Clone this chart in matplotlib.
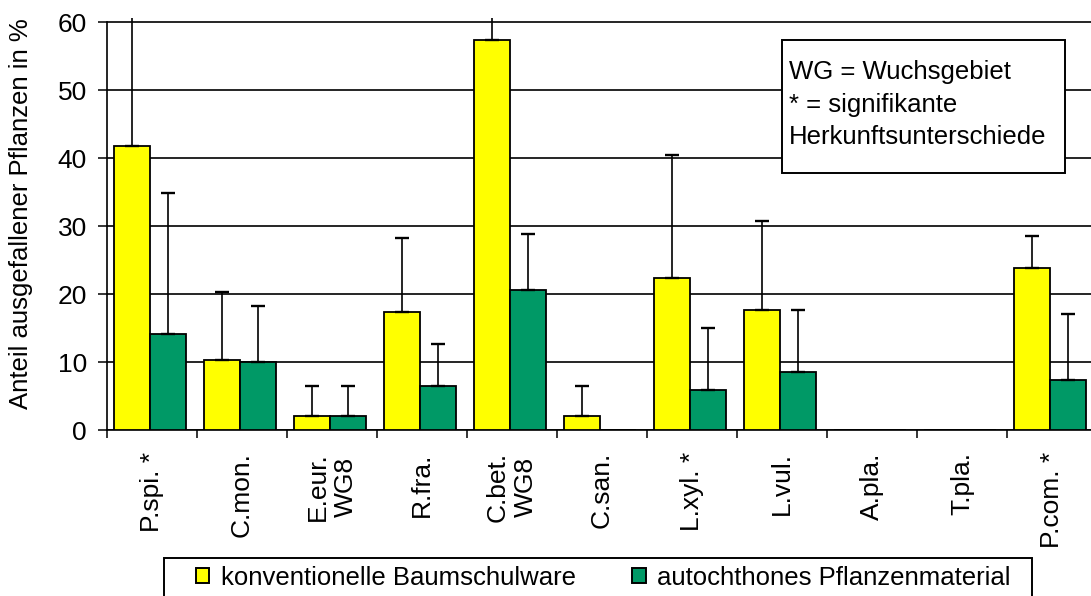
import matplotlib
matplotlib.use("Agg")
import matplotlib.pyplot as plt
from matplotlib.patches import Rectangle, Patch
import numpy as np

# Species (abbreviated) and their failure rates
categories = ["P.spi. *", "C.mon.", "E.eur.\nWG8", "R.fra.", "C.bet.\nWG8",
              "C.san.", "L.xyl. *", "L.vul.", "A.pla.", "T.pla.", "P.com. *"]
konventionell = [41.7, 10.3, 2.0, 17.4, 57.4, 2.0, 22.3, 17.6, 0.0, 0.0, 23.8]
konventionell_upper = [68.0, 20.3, 6.5, 28.3, 66.0, 6.5, 40.4, 30.7, 0.0, 0.0, 28.6]
autochthon = [14.1, 10.0, 2.0, 6.5, 20.6, 0.0, 5.9, 8.5, 0.0, 0.0, 7.4]
autochthon_upper = [34.8, 18.3, 6.5, 12.7, 28.85, 0.0, 15.0, 17.7, 0.0, 0.0, 17.1]
y_ticks = [0, 10, 20, 30, 40, 50, 60]
series_labels = ["konventionelle Baumschulware", "autochthones Pflanzenmaterial"]

YELLOW = "#FFFF00"
GREEN = "#009966"

plt.rcParams["font.family"] = ["Liberation Sans", "DejaVu Sans"]

W, H = 1091, 596
fig = plt.figure(figsize=(W / 100, H / 100), dpi=100)
ax = fig.add_axes([107 / W, (H - 430) / H, 990 / W, 412 / H])

x = np.arange(len(categories))
k = np.array(konventionell)
a = np.array(autochthon)
ax.bar(x - 0.22, k, width=0.4, color=YELLOW, edgecolor="black", linewidth=1.3, zorder=3)
ax.bar(x + 0.18, a, width=0.4, color=GREEN, edgecolor="black", linewidth=1.3, zorder=3)

# upper-only error bars
for offs, vals, up in ((-0.22, k, np.array(konventionell_upper)),
                       (0.18, a, np.array(autochthon_upper))):
    mask = up > vals
    err = np.vstack([np.zeros(mask.sum()), (up - vals)[mask]])
    ax.errorbar(x[mask] + offs, vals[mask], yerr=err, fmt="none", ecolor="black",
                elinewidth=1.2, capsize=5, capthick=1.7, zorder=4)

ax.set_xlim(-0.5, len(categories) - 0.5)
ax.set_ylim(0, 60.6)
ax.set_yticks(y_ticks)
ax.set_yticklabels([str(t) for t in y_ticks], fontsize=19)
ax.yaxis.grid(True, color="black", linewidth=1.2)
ax.set_axisbelow(True)
ax.tick_params(axis="y", direction="out", length=6.5, width=1.1, pad=8, color="black")

# category boundaries as major ticks, labels on minor ticks at bar-group centres
ax.set_xticks(np.arange(len(categories) + 1) - 0.5)
ax.set_xticklabels([])
ax.set_xticks(x, minor=True)
ax.set_xticklabels(categories, minor=True, rotation=90, fontsize=19,
                   va="top", ha="center", multialignment="center")
ax.tick_params(axis="x", which="major", direction="out", length=6, width=1.1)
ax.tick_params(axis="x", which="minor", length=0, pad=16)

for s in ("top", "right"):
    ax.spines[s].set_visible(False)
ax.spines["left"].set_bounds(0, 60)
ax.spines["left"].set_linewidth(1.2)
ax.spines["bottom"].set_linewidth(1.2)

ax.set_ylabel("Anteil ausgefallener Pflanzen in %", fontsize=18.5)
ax.yaxis.set_label_coords(-74 / 990, (430 - 214) / 412)

# annotation box
fig.add_artist(Rectangle((782 / W, 1 - 173 / H), (1065 - 782) / W, (173 - 40) / H,
                         transform=fig.transFigure, facecolor="white",
                         edgecolor="black", linewidth=1.4, zorder=5))
fig.text(789 / W, 1 - 60 / H, "WG = Wuchsgebiet\n* = signifikante\nHerkunftsunterschiede",
         fontsize=18.5, va="top", ha="left", linespacing=1.45, zorder=6)

# legend
fig.add_artist(Rectangle((164 / W, -0.05), (1032 - 164) / W, 1 - 558 / H + 0.05,
                         transform=fig.transFigure, facecolor="white",
                         edgecolor="black", linewidth=1.4, zorder=5))
handles = [Patch(facecolor=YELLOW, edgecolor="black", linewidth=1.4),
           Patch(facecolor=GREEN, edgecolor="black", linewidth=1.4)]
leg = fig.legend(handles, series_labels, ncol=2, frameon=False,
                 loc="upper left", bbox_to_anchor=(196 / W, 1 - 566 / H),
                 borderpad=0, borderaxespad=0,
                 prop={"family": ["Liberation Sans", "DejaVu Sans"], "size": 18.5},
                 handlelength=0.52, handleheight=0.52, handletextpad=0.45,
                 columnspacing=2.2)
leg.set_zorder(6)

fig.savefig("out.png", dpi=100)
